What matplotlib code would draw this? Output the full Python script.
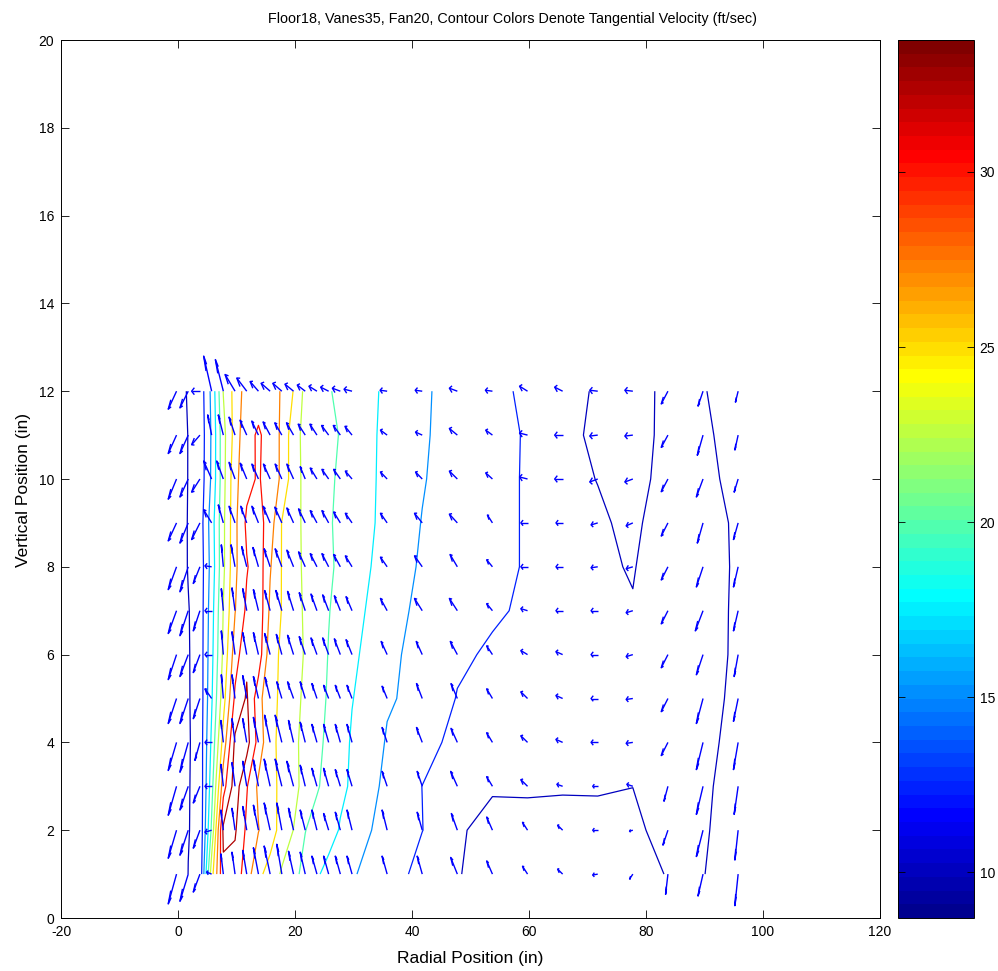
import numpy as np
import matplotlib
matplotlib.use("Agg")
import matplotlib.pyplot as plt
from matplotlib.colors import ListedColormap, Normalize
from matplotlib.collections import LineCollection
import matplotlib.cm as cm

plt.rcParams['font.family'] = ['Liberation Sans', 'DejaVu Sans']
plt.rcParams['axes.unicode_minus'] = False

# ---------------- data ----------------
radial = [-0.25, 1.75, 3.75, 5.75, 7.75, 9.75, 11.75, 13.75, 15.75, 17.75, 19.75,
          21.75, 23.75, 25.75, 27.75, 29.75, 35.75, 41.75, 47.75, 53.75, 59.75,
          65.75, 71.75, 77.75, 83.75, 89.75, 95.75]
vertical = [1, 2, 3, 4, 5, 6, 7, 8, 9, 10, 11, 12]

# tangential velocity (ft/sec), one list per vertical position
wt_01 = [8.69, 10.02, 10.5, 24.0, 32.0, 31.5, 28.7, 25.5, 24.17, 22.15, 20.6, 19.34, 17.8, 16.7, 16.0, 15.1, 14.39, 11.28, 10.1, 9.3, 9.1, 9.0, 9.1, 9.3, 10.09, 10.05, 9.19]
wt_02 = [8.7, 9.95, 10.4, 20.5, 33.0, 32.8, 29.5, 27.6, 26.0, 24.2, 22.45, 20.05, 19.2, 18.5, 17.3, 16.5, 13.81, 12.55, 10.25, 9.35, 9.3, 9.4, 9.3, 9.4, 11.0, 10.3, 8.73]
wt_03 = [8.7, 9.9, 10.6, 19.0, 29.0, 33.77, 30.2, 27.0, 25.8, 24.4, 23.3, 21.6, 20.2, 19.3, 18.0, 17.2, 14.36, 12.48, 11.6, 10.2, 10.25, 10.15, 10.2, 10.02, 10.6, 10.4, 9.03]
wt_04 = [8.7, 9.8, 10.9, 18.0, 26.0, 33.0, 33.5, 29.06, 25.5, 24.5, 23.5, 21.15, 20.5, 19.55, 18.6, 17.2, 14.82, 13.3, 11.87, 11.5, 11.2, 10.9, 10.7, 10.4, 11.0, 10.9, 8.94]
wt_05 = [8.75, 9.85, 10.9, 17.2, 24.0, 30.5, 32.8, 28.5, 25.3, 24.82, 23.4, 21.96, 21.0, 19.7, 18.9, 17.6, 15.2, 14.47, 12.38, 11.8, 11.6, 11.3, 11.0, 10.7, 11.3, 11.0, 9.36]
wt_06 = [8.8, 9.85, 11.0, 16.8, 23.0, 28.8, 32.0, 31.5, 26.0, 24.6, 23.5, 22.3, 21.2, 19.9, 19.0, 17.8, 16.36, 13.03, 12.9, 12.18, 11.9, 11.6, 11.3, 10.8, 11.5, 11.0, 9.59]
wt_07 = [8.8, 9.9, 11.0, 16.5, 22.6, 27.4, 30.5, 31.8, 27.0, 24.9, 23.4, 22.2, 21.2, 20.1, 19.2, 18.2, 16.33, 14.2, 13.3, 12.8, 12.17, 11.4, 11.0, 10.2, 11.6, 11.0, 9.62]
wt_08 = [8.8, 10.1, 11.0, 16.0, 22.0, 27.0, 29.8, 31.5, 27.7, 24.9, 23.3, 22.1, 21.3, 20.5, 19.4, 18.3, 16.82, 14.61, 13.3, 12.7, 12.44, 11.0, 10.5, 9.8, 12.0, 11.0, 9.68]
wt_09 = [8.9, 10.1, 11.2, 16.3, 22.0, 26.9, 30.5, 31.0, 28.75, 24.9, 23.3, 22.02, 21.4, 20.5, 18.96, 18.4, 17.03, 14.9, 13.3, 12.8, 12.41, 10.8, 10.3, 9.53, 11.24, 10.9, 9.66]
wt_10 = [8.9, 10.05, 10.9, 15.4, 21.7, 26.8, 29.2, 30.3, 28.5, 27.21, 23.37, 21.98, 21.3, 20.6, 19.46, 18.6, 17.0, 15.2, 13.6, 12.9, 12.38, 10.6, 9.95, 9.1, 10.87, 10.6, 9.34]
wt_11 = [8.8, 10.05, 10.8, 15.3, 21.7, 26.0, 29.5, 30.2, 29.4, 26.95, 23.56, 21.72, 21.1, 20.5, 19.9, 18.5, 17.09, 15.3, 13.97, 13.2, 12.32, 10.9, 9.38, 9.0, 10.64, 10.4, 9.1]
wt_12 = [9.0, 10.2, 11.0, 15.6, 22.6, 25.9, 28.7, 29.3, 29.0, 27.2, 24.9, 21.8, 21.0, 20.4, 18.9, 18.3, 17.25, 15.4, 13.95, 13.0, 12.15, 11.0, 9.68, 9.2, 10.48, 10.1, 9.2]

# radial velocity (ft/sec)
vr_01 = [-7.1, -7.1, -5.7, -4.3, -2.1, -2.6, -3.4, -4.3, -5.1, -4.3, -4.3, -4.3, -4.3, -4.3, -4.3, -4.3, -4.3, -4.3, -5.7, -4.9, -4.3, -4.3, -4.3, -2.8, -2.0, -4.3, -2.8]
vr_02 = [-7.1, -7.1, -5.7, -5.7, -2.1, -2.6, -3.4, -4.3, -5.1, -4.3, -4.3, -4.3, -4.3, -4.3, -4.3, -4.3, -4.3, -4.3, -5.1, -4.9, -4.3, -4.3, -4.3, -2.8, -4.3, -5.7, -2.8]
vr_03 = [-7.1, -7.1, -5.7, -5.7, -2.1, -2.6, -3.4, -4.3, -5.1, -5.7, -5.7, -4.3, -4.3, -4.3, -4.3, -4.3, -4.3, -4.3, -5.7, -4.9, -5.7, -4.9, -4.3, -5.1, -3.4, -5.7, -3.4]
vr_04 = [-7.1, -7.1, -4.3, -5.7, -2.1, -2.6, -3.4, -4.3, -4.7, -5.7, -4.3, -4.3, -4.3, -4.3, -4.3, -4.3, -4.3, -4.9, -5.4, -4.9, -5.7, -5.7, -5.7, -5.7, -5.7, -5.7, -4.0]
vr_05 = [-7.1, -7.1, -5.7, -5.7, -1.7, -2.6, -3.4, -4.3, -4.3, -4.3, -5.1, -4.3, -4.3, -4.3, -4.3, -4.3, -4.3, -4.9, -5.4, -4.9, -5.7, -5.7, -5.7, -5.7, -5.7, -5.7, -4.0]
vr_06 = [-7.1, -7.1, -5.7, -5.7, -1.7, -2.6, -3.4, -4.3, -4.7, -4.7, -5.1, -5.1, -5.1, -5.1, -5.1, -5.1, -5.1, -5.1, -6.0, -4.9, -5.7, -5.7, -5.7, -5.7, -5.7, -5.7, -3.4]
vr_07 = [-7.1, -7.1, -5.7, -5.7, -1.7, -2.6, -3.4, -4.3, -4.7, -5.1, -5.1, -5.1, -5.1, -5.1, -5.1, -5.1, -5.7, -6.6, -6.8, -4.9, -5.7, -5.7, -5.7, -5.7, -5.7, -6.6, -4.0]
vr_08 = [-7.1, -7.1, -5.7, -5.7, -1.7, -3.4, -4.3, -4.7, -5.1, -5.7, -5.7, -5.7, -5.7, -5.7, -5.7, -5.7, -5.7, -6.6, -6.2, -4.9, -5.7, -5.7, -5.7, -5.7, -5.7, -5.7, -4.0]
vr_09 = [-7.1, -7.1, -7.1, -6.8, -4.3, -5.1, -5.1, -5.6, -6.0, -6.0, -5.7, -5.7, -5.7, -5.7, -5.7, -5.7, -5.7, -6.6, -6.8, -4.3, -5.7, -5.7, -5.7, -5.7, -5.7, -4.9, -4.0]
vr_10 = [-7.1, -7.1, -7.1, -6.8, -5.7, -5.1, -5.6, -5.6, -5.7, -5.7, -5.7, -4.3, -5.7, -5.7, -5.7, -5.7, -5.7, -5.7, -6.8, -5.7, -6.8, -6.8, -6.8, -6.8, -5.7, -5.7, -3.4]
vr_11 = [-7.1, -7.1, -7.1, -3.4, -4.3, -5.1, -5.7, -5.7, -6.0, -6.0, -6.0, -6.0, -6.0, -6.0, -6.0, -6.0, -5.7, -5.7, -6.8, -5.7, -6.8, -6.8, -6.8, -6.8, -5.7, -4.9, -2.8]
vr_12 = [-7.1, -7.1, -7.1, -6.8, -6.8, -8.5, -8.5, -7.1, -7.7, -7.7, -7.3, -6.8, -6.8, -6.8, -6.8, -6.8, -6.0, -6.0, -6.8, -6.0, -6.8, -6.8, -6.8, -6.8, -5.7, -4.3, -2.3]

# vertical velocity (ft/sec)
vz_01 = [-3.4, -3.1, -2.05, 0.23, 2.3, 2.5, 2.7, 3.0, 3.2, 3.4, 2.6, 2.5, 2.05, 2.05, 2.05, 2.05, 2.05, 2.05, 1.9, 1.5, 0.9, 0.57, -0.11, -0.57, -2.3, -2.5, -3.6]
vz_02 = [-3.2, -2.85, -2.05, -0.23, 2.3, 2.5, 2.7, 2.85, 3.1, 3.1, 2.5, 2.3, 2.3, 1.9, 2.05, 2.3, 2.3, 2.05, 1.9, 1.5, 0.9, 0.57, 0.0, -0.11, -1.7, -3.0, -3.4]
vz_03 = [-3.3, -2.7, -1.9, 0.0, 2.5, 2.7, 2.85, 3.0, 3.1, 3.1, 2.85, 2.4, 2.05, 2.05, 1.9, 1.9, 1.7, 1.7, 1.7, 1.1, 0.76, 0.23, 0.0, 0.23, -1.7, -3.2, -3.2]
vz_04 = [-3.2, -3.4, -2.05, 0.0, 2.5, 2.7, 2.7, 2.85, 3.1, 3.1, 2.5, 2.3, 2.05, 2.05, 2.05, 2.05, 1.7, 1.7, 1.6, 1.1, 0.76, 0.34, 0.0, -0.11, -1.5, -3.1, -3.1]
vz_05 = [-2.85, -2.85, -2.3, 1.1, 2.7, 2.7, 2.6, 2.5, 2.4, 1.9, 1.9, 1.9, 1.7, 1.5, 1.5, 1.5, 1.4, 1.7, 1.7, 1.1, 0.76, 0.34, 0.0, -0.11, -1.5, -2.85, -2.6]
vz_06 = [-2.85, -2.5, -2.05, 0.0, 2.7, 2.6, 2.5, 2.5, 2.4, 2.3, 2.2, 2.05, 1.9, 1.9, 1.8, 1.7, 1.5, 1.5, 1.5, 1.0, 0.46, 0.34, 0.0, -0.23, -1.5, -2.3, -2.5]
vz_07 = [-2.6, -2.85, -2.3, 0.0, 2.5, 2.6, 2.5, 2.4, 2.3, 2.3, 2.2, 2.05, 1.9, 1.8, 1.7, 1.6, 1.4, 1.4, 1.4, 0.8, 0.23, 0.0, 0.0, -0.23, -1.5, -2.3, -2.3]
vz_08 = [-2.6, -2.85, -1.9, 0.11, 2.5, 2.5, 2.3, 2.2, 2.05, 2.05, 1.9, 1.7, 1.5, 1.5, 1.4, 1.25, 1.1, 1.25, 1.4, 0.8, 0.0, 0.0, -0.11, -0.23, -1.5, -2.3, -2.3]
vz_09 = [-2.05, -2.3, -1.9, 1.5, 2.05, 1.9, 1.9, 1.9, 1.9, 1.8, 1.7, 1.6, 1.4, 1.4, 1.25, 1.1, 1.1, 1.1, 1.0, 0.9, 0.0, 0.0, -0.23, -0.34, -1.5, -2.3, -1.9]
vz_10 = [-2.3, -2.05, -1.5, 2.05, 2.05, 1.9, 1.8, 1.7, 1.7, 1.7, 1.7, 1.4, 1.25, 1.1, 1.1, 0.9, 0.8, 0.8, 0.9, 0.7, 0.23, 0.0, -0.34, -0.34, -1.45, -2.05, -1.5]
vz_11 = [-2.1, -2.1, -1.1, 2.3, 2.3, 2.05, 1.7, 1.6, 1.5, 1.4, 1.4, 1.25, 1.25, 1.1, 1.1, 1.0, 0.57, 0.34, 0.76, 0.57, 0.23, 0.0, -0.11, -0.11, -1.4, -2.3, -1.7]
vz_12 = [-2.05, -1.9, 0.0, 4.0, 3.6, 1.9, 1.5, 1.1, 0.9, 0.9, 0.8, 0.7, 0.57, 0.46, 0.34, 0.23, 0.11, 0.11, 0.34, 0.11, 0.57, 0.46, 0.11, 0.11, -1.45, -1.7, -1.25]

contour_levels = [10, 12.5, 15, 17.5, 20, 22.5, 25, 27.5, 30, 32.5]
cbar_ticks = [10, 15, 20, 25, 30]
x_ticks = [-20, 0, 20, 40, 60, 80, 100, 120]
y_ticks = [0, 2, 4, 6, 8, 10, 12, 14, 16, 18, 20]

title_text = "Floor18, Vanes35, Fan20, Contour Colors Denote Tangential Velocity (ft/sec)"
x_label = "Radial Position (in)"
y_label = "Vertical Position (in)"

# ---------------- assemble ----------------
W = np.array([wt_01, wt_02, wt_03, wt_04, wt_05, wt_06, wt_07, wt_08, wt_09, wt_10, wt_11, wt_12])
U = np.array([vr_01, vr_02, vr_03, vr_04, vr_05, vr_06, vr_07, vr_08, vr_09, vr_10, vr_11, vr_12])
V = np.array([vz_01, vz_02, vz_03, vz_04, vz_05, vz_06, vz_07, vz_08, vz_09, vz_10, vz_11, vz_12])
Xg, Yg = np.meshgrid(radial, vertical)


def matlab_jet(m=64):
    n = int(np.ceil(m / 4))
    u = np.concatenate([np.arange(1, n + 1) / n, np.ones(n - 1), np.arange(n, 0, -1) / n])
    g = int(np.ceil(n / 2)) - (1 if m % 4 == 1 else 0) + np.arange(1, len(u) + 1)
    r = g + n
    b = g - n
    cmap = np.zeros((m, 3))
    for idx, col in ((r, 0), (g, 1), (b, 2)):
        mask = (idx >= 1) & (idx <= m)
        cmap[idx[mask] - 1, col] = u[mask]
    return ListedColormap(cmap)


jet64 = matlab_jet(64)
norm = Normalize(vmin=W.min(), vmax=W.max())

fig = plt.figure(figsize=(9.98, 9.71), dpi=100)
ax = fig.add_axes([61 / 998, 53 / 971, 819 / 998, 878 / 971])
cax = fig.add_axes([898 / 998, 53 / 971, 76 / 998, 878 / 971])

ax.contour(Xg, Yg, W, levels=contour_levels, cmap=jet64, norm=norm, linewidths=0.9)

# MATLAB style quiver arrows (shaft + two head strokes)
S = 0.2
alpha, beta = 0.33, 0.17
segs = []
for i in range(len(vertical)):
    for j in range(len(radial)):
        x0 = Xg[i, j]
        y0 = Yg[i, j]
        u = U[i, j] * S
        v = V[i, j] * S
        tx, ty = x0 + u, y0 + v
        segs.append([(x0, y0), (tx, ty)])
        segs.append([(tx - alpha * (u + beta * v), ty - alpha * (v - beta * u)),
                     (tx, ty),
                     (tx - alpha * (u - beta * v), ty - alpha * (v + beta * u))])
ax.add_collection(LineCollection(segs, colors=(0, 0, 1), linewidths=1.0))

ax.set_xlim(-20, 120)
ax.set_ylim(0, 20)
ax.set_xticks(x_ticks)
ax.set_yticks(y_ticks)
ax.tick_params(direction='in', top=True, right=True, length=6, width=0.6, labelsize=10, pad=5)
for sp in ax.spines.values():
    sp.set_linewidth(0.7)
ax.set_xlabel(x_label, fontsize=12.5)
ax.set_ylabel(y_label, fontsize=12.5)
ax.xaxis.set_label_coords(0.5, -0.038)
ax.yaxis.set_label_coords(-0.037, 0.487)
ax.set_title(title_text, fontsize=10.4, pad=12, x=(512 - 61) / 819)

sm = cm.ScalarMappable(norm=norm, cmap=jet64)
cb = fig.colorbar(sm, cax=cax, ticks=cbar_ticks)
cb.outline.set_linewidth(0.7)
cax.tick_params(direction='in', left=True, right=True, length=5, width=0.6, labelsize=10, pad=4)

fig.savefig("out.png", dpi=100)
